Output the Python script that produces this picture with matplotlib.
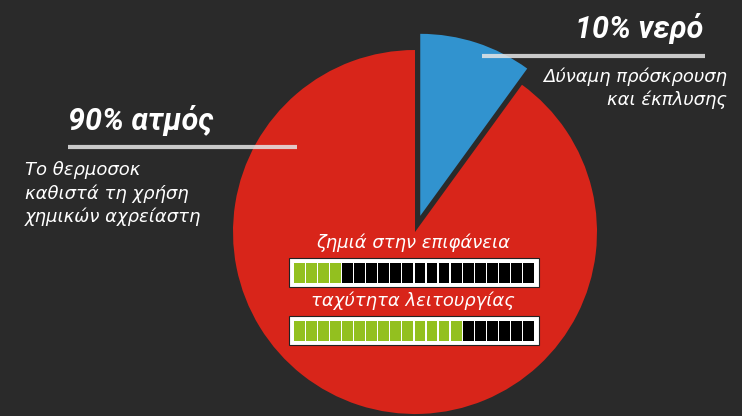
import matplotlib
matplotlib.use("Agg")
import matplotlib.pyplot as plt
from matplotlib.patches import Rectangle

# data
shares = [10, 90]            # % water, % steam
slice_colors = ["#3193cf", "#d8251a"]
damage_level = 4             # segments lit out of 20
speed_level = 14
segments = 20

W, H = 742, 416
BG = "#2a2a2a"

def Y(p):
  # pixel row -> data y
  return H - p

fig = plt.figure(figsize=(W / 100, H / 100), dpi=100, facecolor=BG)
ax = fig.add_axes([0, 0, 1, 1])
ax.set_facecolor(BG)

ax.pie(shares, colors=slice_colors, startangle=90, counterclock=False,
       explode=[17, 0], center=(415, Y(232)), radius=182,
       wedgeprops=dict(linewidth=0))

ax.set_xlim(0, W)
ax.set_ylim(0, H)
ax.set_aspect("equal")
ax.axis("off")

head = dict(family=["Roboto", "DejaVu Sans"], fontweight="bold",
            fontstyle="italic", color="white", fontsize=22)
body = dict(family=["DejaVu Sans"], fontstyle="italic",
            color="white", fontsize=13)

# right label
ax.text(703, Y(29), "10% νερό", ha="right", va="center", **head)
ax.plot([482, 705], [Y(56), Y(56)], color="#e6e6e6", lw=3, alpha=0.85,
        solid_capstyle="butt")
ax.text(727, Y(77), "Δύναμη πρόσκρουση", ha="right", va="center", **body)
ax.text(727, Y(100), "και έκπλυσης", ha="right", va="center", **body)

# left label
ax.text(68, Y(121), "90% ατμός", ha="left", va="center", **head)
ax.plot([68, 297], [Y(147), Y(147)], color="#e6e6e6", lw=3, alpha=0.85,
        solid_capstyle="butt")
for i, line in enumerate(["Το θερμοσοκ", "καθιστά τη χρήση", "χημικών αχρείαστη"]):
  ax.text(25, Y(170 + i * 23.5), line, ha="left", va="center", **body)

# level bars
def level_bar(label, level, top):
  ax.text(413, Y(top - 15), label, ha="center", va="center", **body)
  ax.add_patch(Rectangle((289, Y(top + 29)), 250, 29, facecolor="white",
                         edgecolor="#222222", lw=0.8))
  seg_w = 241 / segments
  xs = [294 + i * seg_w for i in range(segments)]
  cols = ["#93c01f" if i < level else "black" for i in range(segments)]
  ax.bar(xs, 20, width=seg_w - 1.2, bottom=Y(top + 25), align="edge",
         color=cols, linewidth=0)

level_bar("ζημιά στην επιφάνεια", damage_level, 258)
level_bar("ταχύτητα λειτουργίας", speed_level, 316)

fig.savefig("out.png", dpi=100, facecolor=BG)
